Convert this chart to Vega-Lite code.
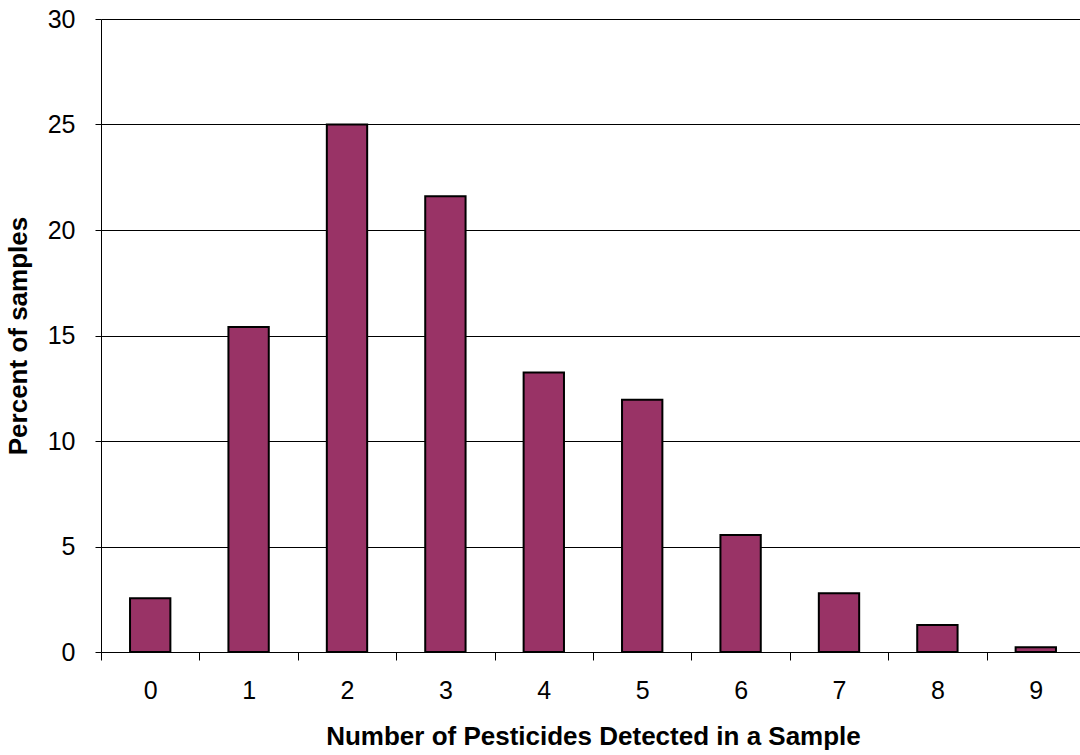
{
  "$schema": "https://vega.github.io/schema/vega-lite/v6.json",
  "autosize": "none",
  "width": 984,
  "height": 633,
  "padding": {"left": 101, "top": 19, "right": 0, "bottom": 103},
  "background": "white",
  "config": {
    "view": {"stroke": null},
    "font": "Liberation Sans"
  },
  "data": {
    "values": [
      {"count": "0", "percent": 2.55},
      {"count": "1", "percent": 15.4},
      {"count": "2", "percent": 25.0},
      {"count": "3", "percent": 21.6},
      {"count": "4", "percent": 13.25},
      {"count": "5", "percent": 11.95},
      {"count": "6", "percent": 5.55},
      {"count": "7", "percent": 2.78},
      {"count": "8", "percent": 1.28},
      {"count": "9", "percent": 0.22}
    ]
  },
  "mark": {"type": "bar", "fill": "#993366", "stroke": "black", "strokeWidth": 2, "width": {"band": 0.41}},
  "encoding": {
    "x": {
      "field": "count",
      "type": "ordinal",
      "sort": null,
      "scale": {"paddingInner": 0, "paddingOuter": 0},
      "axis": {
        "title": "Number of Pesticides Detected in a Sample",
        "labelFont": "Liberation Sans",
        "titleFont": "Liberation Sans",
        "labelFontSize": 25,
        "titleFontSize": 26,
        "titleFontWeight": "bold",
        "labelColor": "black",
        "titleColor": "black",
        "domainColor": "black",
        "tickColor": "black",
        "labelAngle": 0,
        "tickBand": "extent",
        "tickSize": 8,
        "labelPadding": 18,
        "titlePadding": 20
      }
    },
    "y": {
      "field": "percent",
      "type": "quantitative",
      "scale": {"domain": [0, 30], "nice": false},
      "axis": {
        "title": "Percent of samples",
        "labelFont": "Liberation Sans",
        "titleFont": "Liberation Sans",
        "labelFontSize": 25,
        "titleFontSize": 26,
        "titleFontWeight": "bold",
        "labelColor": "black",
        "titleColor": "black",
        "domainColor": "black",
        "tickColor": "black",
        "gridColor": "black",
        "gridOpacity": 1,
        "values": [0, 5, 10, 15, 20, 25, 30],
        "tickSize": 6,
        "labelPadding": 20,
        "titlePadding": 16,
        "grid": true
      }
    }
  }
}
